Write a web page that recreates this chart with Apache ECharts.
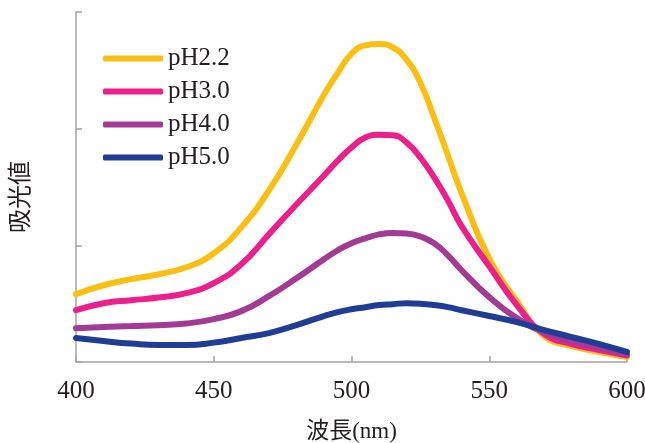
<!DOCTYPE html>
<html><head><meta charset="utf-8">
<script src="https://cdn.jsdelivr.net/npm/echarts@6/dist/echarts.min.js"></script>
<style>html,body{margin:0;padding:0;background:#fff}#c{width:645px;height:443px}</style>
</head><body><div id="c"></div>
<script>
const seriesNames = ['pH2.2','pH3.0','pH4.0','pH5.0'];
const wavelengths = [400,410,420,430,440,450,460,470,480,490,495,500,505,510,515,520,525,530,535,540,550,560,570,580,590,600];
const pH22 = [0.291,0.329,0.355,0.376,0.406,0.466,0.577,0.735,0.932,1.145,1.239,1.321,1.357,1.363,1.348,1.295,1.197,1.047,0.885,0.722,0.444,0.261,0.111,0.068,0.043,0.021];
const pH30 = [0.222,0.252,0.265,0.276,0.295,0.338,0.419,0.547,0.675,0.799,0.863,0.919,0.962,0.974,0.972,0.940,0.876,0.791,0.692,0.581,0.410,0.244,0.120,0.077,0.051,0.028];
const pH40 = [0.145,0.150,0.154,0.158,0.165,0.184,0.218,0.282,0.359,0.440,0.479,0.509,0.530,0.547,0.553,0.551,0.538,0.509,0.457,0.393,0.278,0.188,0.128,0.090,0.062,0.034];
const pH50 = [0.103,0.090,0.079,0.073,0.073,0.083,0.103,0.124,0.158,0.197,0.214,0.226,0.235,0.244,0.248,0.252,0.250,0.244,0.235,0.222,0.197,0.171,0.137,0.107,0.077,0.043];
const xTicks = {min:400, max:600, interval:50};
const yTicks = {min:0, max:1.5, interval:0.5};
const colors = ['#FCBE12','#EC1F8D','#A33A93','#1F3D96'];
const allData = [pH22, pH30, pH40, pH50];

const font = "'Liberation Serif','Noto Sans CJK JP',serif";
const axisColor = '#a3a3a3';
const chart = echarts.init(document.getElementById('c'));
chart.setOption({
  animation:false,
  grid:{left:76,right:18,top:12,bottom:81,outerBoundsMode:'none',containLabel:false},
  legend:{
    orient:'vertical', left:103, top:46, padding:0, itemWidth:60, itemHeight:6, itemGap:8,
    icon:'roundRect',
    textStyle:{fontFamily:font,fontSize:25,color:'#231f20'},
    data:seriesNames
  },
  xAxis:{
    type:'value', min:xTicks.min, max:xTicks.max, interval:xTicks.interval,
    name:'波長(nm)', nameLocation:'middle', nameGap:58,
    nameTextStyle:{fontFamily:font,fontSize:23,color:'#231f20'},
    axisLine:{lineStyle:{color:axisColor,width:1.5}},
    axisTick:{inside:true,length:6,lineStyle:{color:axisColor,width:1.5}},
    axisLabel:{fontFamily:font,fontSize:25,color:'#231f20',margin:17},
    splitLine:{show:false}
  },
  yAxis:{
    type:'value', min:yTicks.min, max:yTicks.max, interval:yTicks.interval,
    name:'吸光値', nameLocation:'middle', nameGap:42, nameRotate:90,
    nameTextStyle:{fontFamily:font,fontSize:24,color:'#231f20',padding:[0,20,0,0]},
    axisLine:{show:true,lineStyle:{color:axisColor,width:1.5}},
    axisTick:{show:true,inside:true,length:6,lineStyle:{color:axisColor,width:1.5}},
    axisLabel:{show:false},
    splitLine:{show:false}
  },
  series: seriesNames.map((n,i)=>({
    name:n, type:'line', smooth:0.5, showSymbol:false, symbol:'none',
    data: wavelengths.map((w,j)=>[w, allData[i][j]]),
    lineStyle:{color:colors[i],width:6,cap:'round'},
    itemStyle:{color:colors[i]}
  }))
});
</script></body></html>
